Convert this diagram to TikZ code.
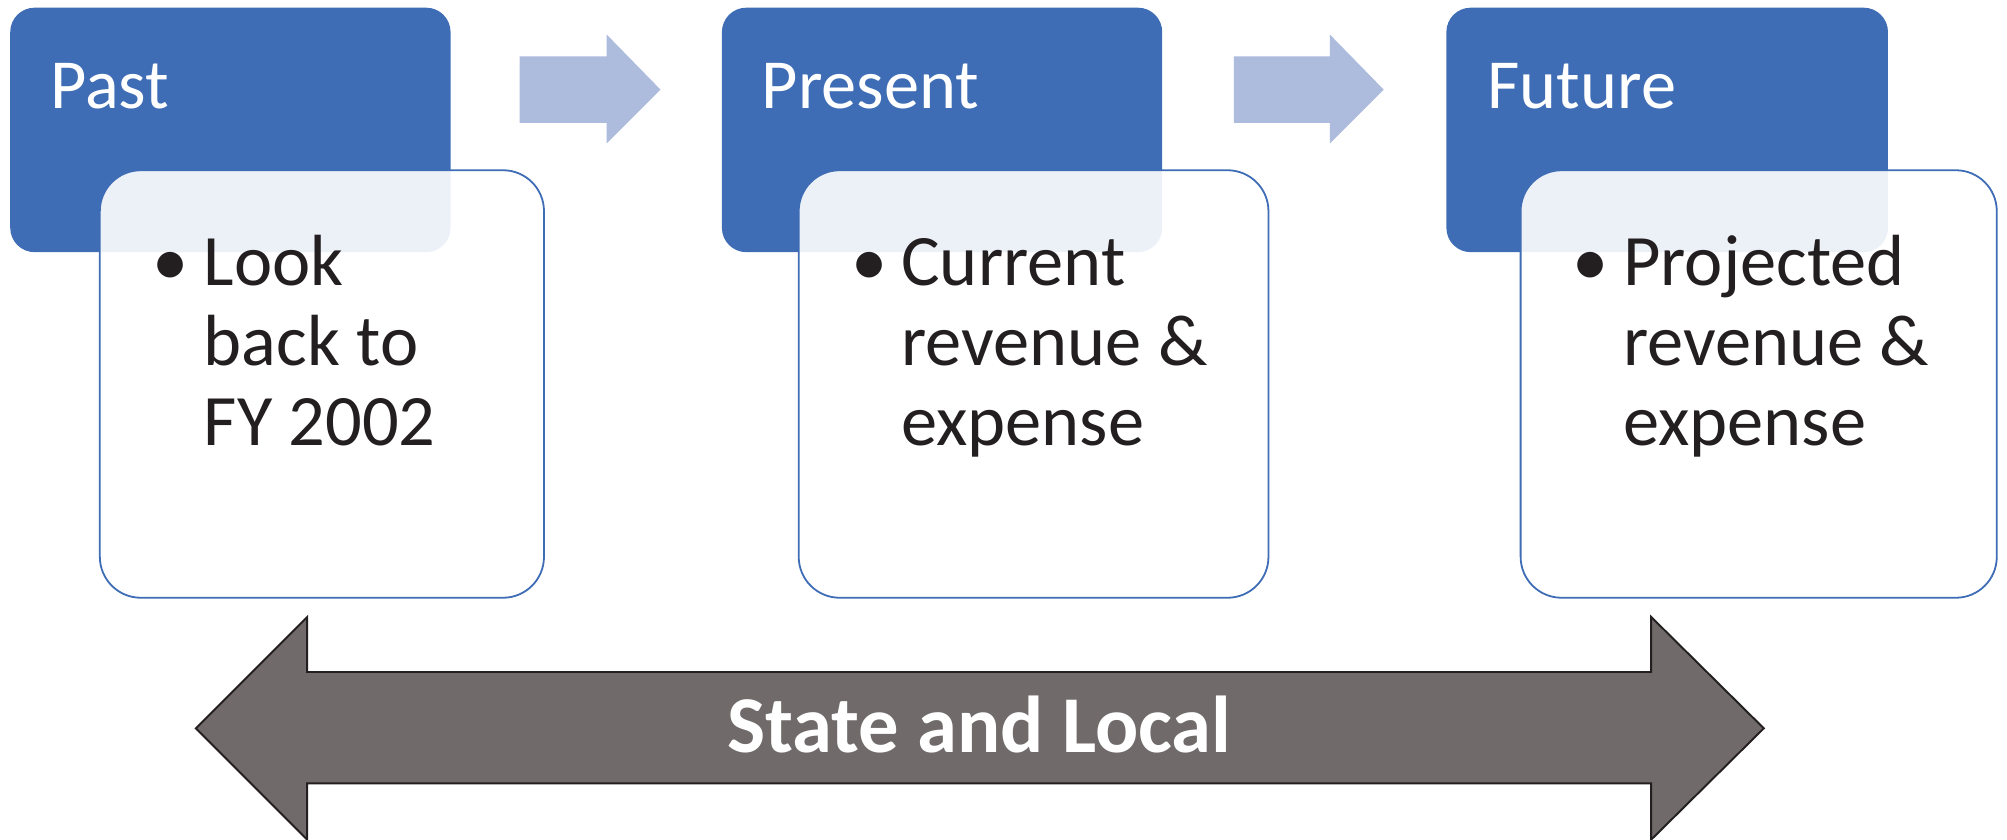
\documentclass[tikz,border=0pt]{standalone}
\usepackage{fontspec}
\setmainfont{Carlito}
\definecolor{hdrblue}{RGB}{62,108,181}
\definecolor{lightarrow}{RGB}{173,187,221}
\definecolor{arrowgray}{RGB}{112,106,106}
\definecolor{darktext}{RGB}{35,31,32}
\tikzset{
  hdrbox/.style={fill=hdrblue, rounded corners=19pt, minimum width=344pt, minimum height=191pt, inner sep=0pt},
  bodybox/.style={fill=white, fill opacity=0.9, draw=hdrblue, line width=1.4pt, rounded corners=32pt, minimum height=334pt, inner sep=0pt},
  hdrtext/.style={anchor=base west, inner sep=0pt, text=white, font=\fontsize{55}{60}\selectfont},
  bodytext/.style={anchor=base west, inner sep=0pt, text=darktext, font=\fontsize{56.6}{62.5}\selectfont},
  bullettext/.style={anchor=base, inner sep=0pt, text=darktext, font=\fontsize{56.6}{62.5}\selectfont},
  smallarrow/.style={fill=lightarrow},
  bigarrow/.style={fill=arrowgray, draw=darktext, line width=1.5pt, line join=miter},
  bigtext/.style={anchor=base, inner sep=0pt, text=white, font=\fontsize{63}{70}\selectfont\bfseries}
}
\begin{document}
\begin{tikzpicture}[x=1pt,y=-1pt]
\useasboundingbox (0,0) rectangle (1568,656);
% header boxes
\node[hdrbox] (pastH) at (180,101.5) {};
\node[hdrbox] (presH) at (736,101.5) {};
\node[hdrbox, minimum width=345pt] (futH) at (1302.5,101.5) {};
% small arrows
\coordinate (a1) at (406,70);
\coordinate (a2) at (964,70);
\fill[smallarrow] (a1) ++(0,-26) -- ++(68,0) -- ++(0,-17) -- ++(42,43) -- ++(-42,42) -- ++(0,-16) -- ++(-68,0) -- cycle;
\fill[smallarrow] (a2) ++(0,-26) -- ++(75,0) -- ++(0,-17) -- ++(42,43) -- ++(-42,42) -- ++(0,-16) -- ++(-75,0) -- cycle;
% body boxes
\node[bodybox, minimum width=347pt] (pastB) at (251.5,300) {};
\node[bodybox, minimum width=367pt] (presB) at (807.5,300) {};
\node[bodybox, minimum width=372pt] (futB) at (1374,300) {};
% header texts
\node[hdrtext] (pastHT) at (39,84.6) {Past};
\node[hdrtext] (presHT) at (595,84.6) {Present};
\node[hdrtext] (futHT) at (1162,84.6) {Future};
% bullets
\node[bullettext] (pastBul) at (133,223) {•};
\node[bullettext] (presBul) at (679,223) {•};
\node[bullettext] (futBul) at (1243,223) {•};
% body texts
\node[bodytext] (pastBT) at (159,223) {\parbox[t]{300pt}{\raggedright Look\\back to\\FY 2002}};
\node[bodytext] (presBT) at (704,223) {\parbox[t]{300pt}{\raggedright Current\\revenue \&\\expense}};
\node[bodytext] (futBT) at (1268,223) {\parbox[t]{300pt}{\raggedright Projected\\revenue \&\\expense}};
% big double arrow
\coordinate (bigC) at (765.5,569);
\draw[bigarrow] (153,569) -- (240,482) -- (240,525) -- (1290,525) -- (1290,482) -- (1378,569) -- (1290,656) -- (1290,612) -- (240,612) -- (240,656) -- cycle;
\node[bigtext] (bigT) at (765,588) {State and Local};
\end{tikzpicture}
\end{document}
